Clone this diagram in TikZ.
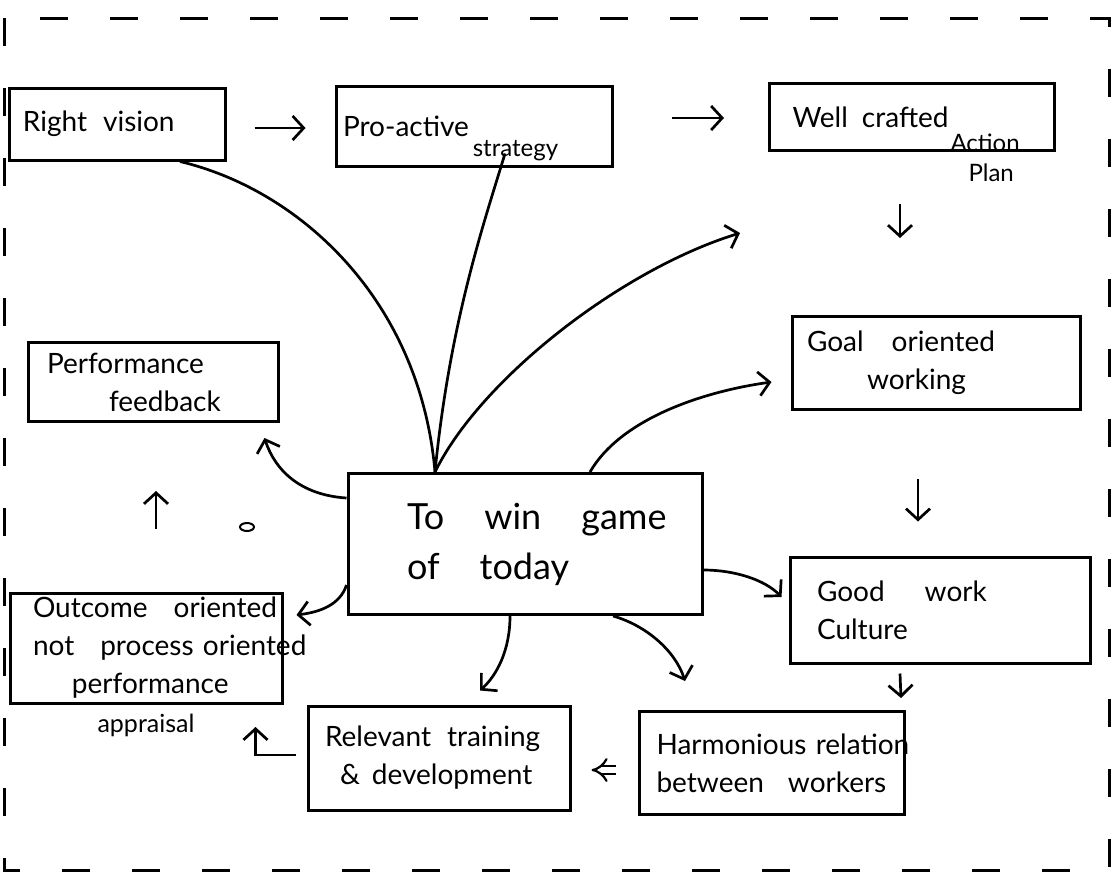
\documentclass[tikz,border=0pt]{standalone}
\usepackage{fontspec}
\setmainfont{Lato}
\usetikzlibrary{arrows.meta}
\tikzset{
  box/.style={draw,line width=3pt,align=left,inner ysep=2pt,font=\fontsize{28}{38}\selectfont},
  lab/.style={font=\fontsize{25}{30}\selectfont,align=left},
  link/.style={line width=2.7pt},
  arr/.style={line width=2.7pt,-{Straight Barb[length=11pt,width=24pt]}},
  dbl/.style={double,double distance=6pt,line width=2.2pt,-{Implies}},
  frame/.style={line width=3pt,dash pattern=on 28pt off 42pt},
}
\begin{document}
\begin{tikzpicture}[x=1pt,y=-1pt]
  \useasboundingbox (0,0) rectangle (1114,892);
  \draw [frame] (4,18) rectangle (1109,870);
  %boxes
  \node [box,text width=188pt,inner xsep=14pt,minimum height=72pt] (vision) at (117,124) {Right\hspace{16pt}vision};
  \node [box,text width=262pt,inner xsep=7pt,minimum height=80pt] (strategy) at (474,126)
        {Pro-active\hspace{4pt}\smash{\raisebox{-20pt}{\fontsize{24}{28}\selectfont strategy}}};
  \node [box,text width=239pt,inner xsep=23pt,minimum height=67pt] (plan) at (912,117)
        {Well\hspace{14pt}crafted\hspace{2pt}\smash{\raisebox{-24pt}{\fontsize{24}{30}\selectfont\begin{tabular}[t]{@{}l@{}}Action\\\hspace*{18pt}Plan\end{tabular}}}};
  \node [box,text width=212pt,inner xsep=19pt,minimum height=79pt] (feedback) at (153,382)
        {Performance\\\hspace*{62pt}feedback};
  \node [box,text width=258pt,inner xsep=15pt,minimum height=93pt] (goal) at (936,363)
        {Goal\hspace{28pt}oriented\\\hspace*{60pt}working};
  \node [box,text width=236pt,inner xsep=59pt,minimum height=141pt,font=\fontsize{36}{50}\selectfont] (win) at (525,544)
        {\mbox{To\hspace{40pt}win\hspace{40pt}game}\\of\hspace{40pt}today};
  \node [box,text width=226pt,inner xsep=23pt,minimum height=110pt,
         label={[lab,label distance=6pt]below:appraisal}] (outcome) at (146,648)
        {\mbox{Outcome\hspace{26pt}oriented}\\\mbox{not\hspace{26pt}process oriented}\\\hspace*{39pt}performance};
  \node [box,text width=246pt,inner xsep=27pt,minimum height=106pt] (culture) at (940,610)
        {Good\hspace{40pt}work\\Culture};
  \node [box,text width=228pt,inner xsep=17pt,minimum height=104pt] (relevant) at (439,758)
        {\mbox{Relevant\hspace{16pt}training}\\\hspace*{15pt}\&\hspace{12pt}development};
  \node [box,text width=231pt,inner xsep=17pt,minimum height=103pt] (harmony) at (772,763)
        {\mbox{Harmonious relation}\\\mbox{between\hspace{24pt}workers}};
  \coordinate (tipA) at (740,233);
  %chain
  \draw [arr] ([shift={(28,4)}]vision.east) -- ([shift={(-29,2)}]strategy.west);
  \draw [arr] ([shift={(58,-8)}]strategy.east) -- ([shift={(-44,1)}]plan.west);
  \draw [arr] ([shift={(-12,52)}]plan.south) -- ([shift={(-36,-77)}]goal.north);
  \draw [arr] ([shift={(-18,68)}]goal.south) -- ([shift={(-22,-34)}]culture.north);
  \draw [arr] ([shift={(-40,9)}]culture.south) -- ([shift={(-5,-12)}]harmony.north east);
  \draw [dbl] ([shift={(-22,7)}]harmony.west) -- ([shift={(20,12)}]relevant.east);
  \draw [arr] ([shift={(-11,-3)}]relevant.west) -- ++(-40,0) -- ++(0,-28);
  \draw [arr] ([shift={(10,-63)}]outcome.north) -- ([shift={(3,68)}]feedback.south);
  \draw [line width=2pt] (247,527) ellipse [x radius=7, y radius=4];
  %from the middle
  \draw [link] ([xshift=-90pt]win.north) .. controls (420,300) and (300,190) .. ([xshift=63pt]vision.south);
  \draw [link] ([xshift=-90pt]win.north) .. controls (450,320) and (485,220) .. ([shift={(31,-14)}]strategy.south);
  \draw [arr] ([xshift=-90pt]win.north) .. controls (480,380) and (620,270) .. (tipA);
  \draw [arr] ([xshift=65pt]win.north) .. controls (620,420) and (700,392) .. ([shift={(-19,19)}]goal.west);
  \draw [arr] ([yshift=-26pt]win.east) .. controls (735,570) and (765,580) .. ([shift={(-7,-13)}]culture.west);
  \draw [arr] ([xshift=88pt]win.south) .. controls (645,625) and (675,650) .. ([shift={(47,-29)}]harmony.north west);
  \draw [arr] ([xshift=-15pt]win.south) .. controls (510,650) and (497,675) .. ([shift={(41,-14)}]relevant.north);
  \draw [arr] ([yshift=46pt]win.west) .. controls (300,495) and (275,470) .. ([shift={(-15,15)}]feedback.south east);
  \draw [arr] ([yshift=-41pt]win.west) .. controls (340,605) and (320,612) .. ([shift={(13,-33)}]outcome.east);
\end{tikzpicture}
\end{document}
